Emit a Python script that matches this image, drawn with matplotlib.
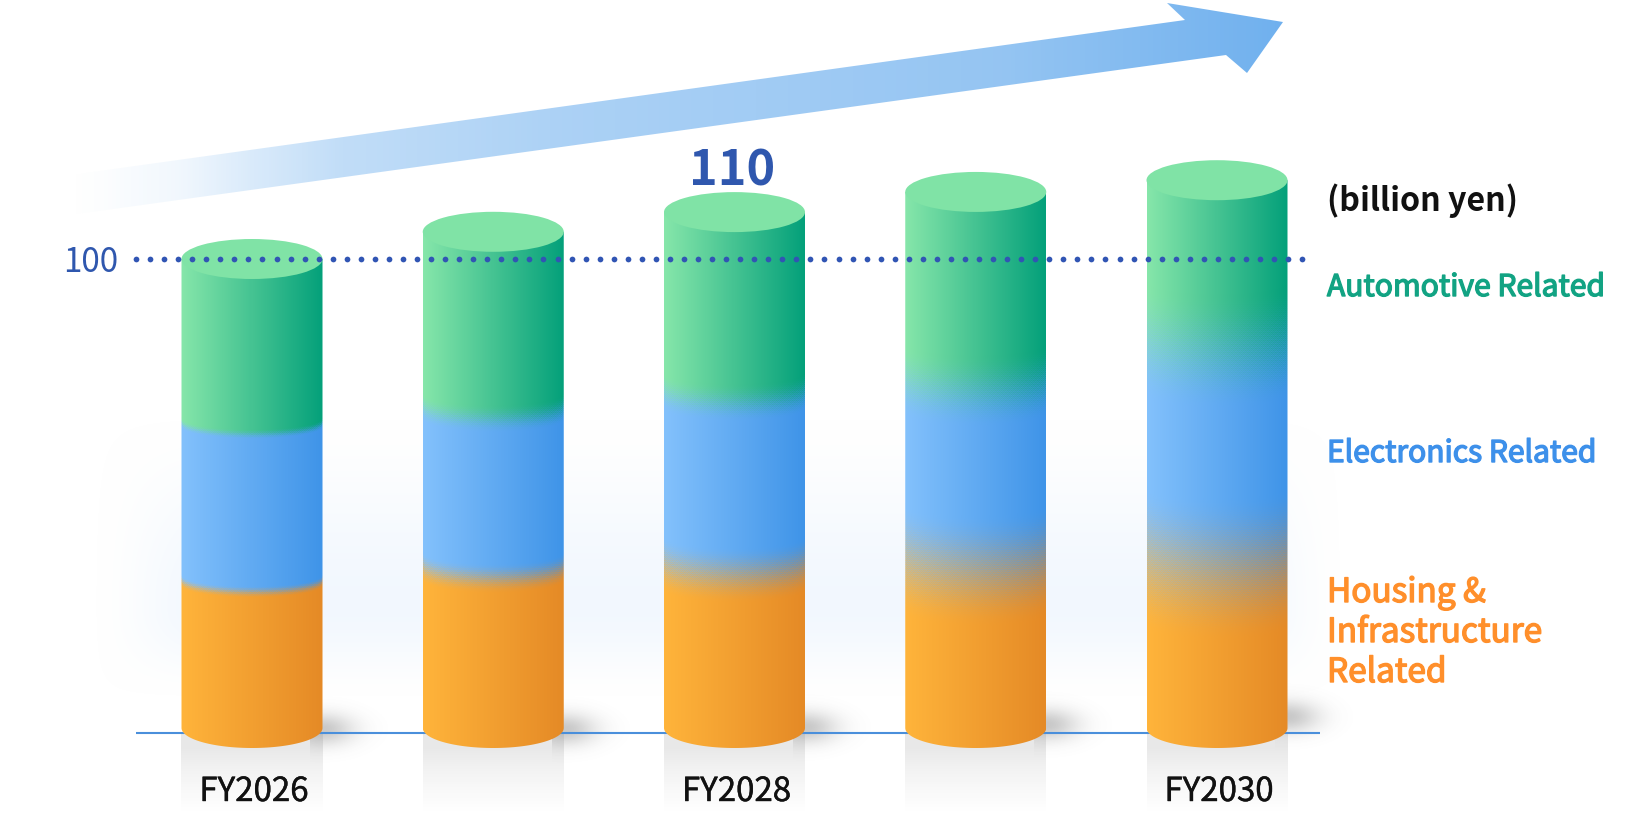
import numpy as np
import matplotlib
matplotlib.use('Agg')
import matplotlib.pyplot as plt
import matplotlib.patheffects as pe
from matplotlib.colors import to_rgb
from matplotlib.patches import Ellipse, PathPatch, Polygon
from matplotlib.path import Path

plt.rcParams['font.family'] = ['Noto Sans CJK JP', 'DejaVu Sans']

years = [2026, 2027, 2028, 2029, 2030]
year_labels = {2026: 'FY2026', 2028: 'FY2028', 2030: 'FY2030'}
housing = [31.6, 34.5, 35.2, 36.0, 36.4]
electronics = [33.5, 33.9, 36.7, 38.2, 46.3]
automotive = [34.9, 37.4, 38.1, 40.1, 34.1]
blur_low = [6, 15, 28, 56, 72]
blur_up = [5, 14, 19, 36, 58]
shadow_y = [-0.4, -0.4, 0.0, 0.6, 2.3]

W, H = 1640, 840
BASE_Y = 728
PX_PER_UNIT = 4.69
PX_PER_YEAR = 241.25
X0 = 252.0
HALF_W = 70.5 / PX_PER_YEAR
TOP_RY = 20 / PX_PER_UNIT
DIP = 12 / PX_PER_UNIT

GREEN = ('#86e6aa', '#04a07a')
BLUE = ('#83c1fc', '#3f94e8')
ORANGE = ('#ffb43b', '#e58a26')

BAYER = np.array([[0, 8, 2, 10], [12, 4, 14, 6], [3, 11, 1, 9], [15, 7, 13, 5]]) / 16.0 - 0.47


def gradient(pair, u):
    a, b = np.array(to_rgb(pair[0])), np.array(to_rgb(pair[1]))
    return a[None, None, :] * (1 - u[..., None]) + b[None, None, :] * u[..., None]


def smooth(t):
    t = np.clip(t, 0, 1)
    return t * t * (3 - 2 * t)


def dither(t):
    # grainy blend across the colour joints
    pattern = np.tile(BAYER, (t.shape[0] // 4 + 1, t.shape[1] // 4 + 1))[:t.shape[0], :t.shape[1]]
    return np.clip(t + pattern * 0.3 * (4 * t * (1 - t)), 0, 1)


def label(axes, x, y, text, size, color, stroke=0.6, **kw):
    t = axes.text(x, y, text, fontsize=size, color=color, va='baseline', **kw)
    t.set_path_effects([pe.withStroke(linewidth=stroke, foreground=color)])
    return t


fig = plt.figure(figsize=(16.4, 8.4), dpi=100)

# pixel-based layer for the backdrop, arrow and side labels
deco = fig.add_axes([0, 0, 1, 1], zorder=0)
deco.set_xlim(0, W)
deco.set_ylim(H, 0)
deco.axis('off')

xx, yy = np.meshgrid(np.arange(W, dtype=float), np.arange(H, dtype=float))
glow = smooth((xx - 90) / 120) * smooth((1345 - xx) / 110) * smooth((yy - 410) / 190) * smooth((700 - yy) / 90)
glow_img = np.zeros((H, W, 4))
glow_img[..., :3] = to_rgb('#e8f2fe')
glow_img[..., 3] = glow * 0.55
deco.imshow(glow_img, extent=(0, W, H, 0), aspect='auto', interpolation='bilinear')

# rising arrow, fading out to the left
arrow_pts = [(70, 175), (1185, 20), (1167, 3), (1283, 22), (1247, 73), (1226, 55), (70, 215)]
arrow = Polygon(arrow_pts, closed=True, fc='none', ec='none')
deco.add_patch(arrow)
arrow_img = np.zeros((H, W, 4))
arrow_img[..., :3] = to_rgb('#6fb0ee')
arrow_img[..., 3] = np.interp(xx, [70, 100, 180, 250, 340, 560, 1000, 1100, 1283],
                              [0, 0.02, 0.1, 0.26, 0.43, 0.58, 0.74, 0.83, 1.0])
im = deco.imshow(arrow_img, extent=(0, W, H, 0), aspect='auto', interpolation='bilinear')
im.set_clip_path(arrow)
deco.set_xlim(0, W)
deco.set_ylim(H, 0)

# chart layer: x in fiscal years, y in billion yen
ax = fig.add_axes([0, 0, 1, 1], zorder=1)
ax.patch.set_alpha(0)
ax.axis('off')

ax.plot([years[0] - 116 / PX_PER_YEAR, years[-1] + 103 / PX_PER_YEAR], [-1, -1],
        color='#4a8fdb', lw=1.5, zorder=2, solid_capstyle='butt')

for i, yr in enumerate(years):
    h, e, a = housing[i], electronics[i], automotive[i]
    total = h + e + a
    left, right = yr - HALF_W, yr + HALF_W

    # soft ground shadow to the right of the cylinder
    sx = np.linspace(right - 0.05, right + 0.32, 120)
    sy = np.linspace(-9, 12, 100)
    gx, gy = np.meshgrid(sx, sy)
    d = ((gx - right) / 0.13) ** 2 + ((gy - shadow_y[i]) / 3.4) ** 2
    shadow = np.zeros(gx.shape + (4,))
    shadow[..., :3] = 0.35
    shadow[..., 3] = 0.33 * np.exp(-d)
    ax.imshow(shadow, extent=(sx[0], sx[-1], sy[0], sy[-1]), origin='lower', aspect='auto', zorder=1)

    # reflection under the base
    ry0, ry1 = -18.2, -1.0
    ref_y = np.linspace(ry0, ry1, 80)
    ref = np.zeros((80, 2, 4))
    ref[..., :3] = 0.55
    ref[..., 3] = np.interp(ref_y, [-18.2, -15.4, -9, -4.2, -1.0], [0, 0.03, 0.11, 0.2, 0.2])[:, None]
    ax.imshow(ref, extent=(left, right, ry0, ry1), origin='lower', aspect='auto', zorder=1)

    # cylinder wall: colours run left to right, blended across the stack joints
    nx, ny = 141, int((total + TOP_RY + 3) * PX_PER_UNIT)
    y_vals = np.linspace(-TOP_RY - 1, total + 2, ny)
    u_vals = np.linspace(0, 1, nx)
    u, v = np.meshgrid(u_vals, y_vals)
    curve = DIP * np.sqrt(np.clip(1 - (2 * u - 1) ** 2, 0, 1))
    b_low = blur_low[i] / PX_PER_UNIT
    b_up = blur_up[i] / PX_PER_UNIT
    to_blue = dither(smooth((v - (h - curve) + b_low) / (2 * b_low)))
    to_green = dither(smooth((v - (h + e - curve) + b_up) / (2 * b_up)))
    wall = gradient(ORANGE, u) * (1 - to_blue[..., None]) + gradient(BLUE, u) * to_blue[..., None]
    wall = wall * (1 - to_green[..., None]) + gradient(GREEN, u) * to_green[..., None]

    t = np.linspace(0, np.pi, 80)
    outline = np.column_stack([
        np.concatenate([[left], yr - HALF_W * np.cos(t), [right], [left]]),
        np.concatenate([[total], -TOP_RY * np.sin(t), [total], [total]]),
    ])
    clip = PathPatch(Path(outline), fc='none', ec='none', transform=ax.transData)
    ax.add_patch(clip)
    body = ax.imshow(wall, extent=(left, right, y_vals[0], y_vals[-1]), origin='lower',
                     aspect='auto', zorder=3, interpolation='nearest')
    body.set_clip_path(clip)

    ax.add_patch(Ellipse((yr, total), 2 * HALF_W, 2 * TOP_RY, fc='#80e3a6', ec='none', zorder=4))

    if yr in year_labels:
        label(ax, yr + 2 / PX_PER_YEAR, -(801 - BASE_Y) / PX_PER_UNIT, year_labels[yr], 23.8, '#111111',
              stroke=0.3, ha='center', zorder=5)

ax.set_xlim(years[0] - X0 / PX_PER_YEAR, years[0] + (W - X0) / PX_PER_YEAR)
ax.set_ylim(-(H - BASE_Y) / PX_PER_UNIT, BASE_Y / PX_PER_UNIT)

# dotted reference at 100
dot_x = np.arange(136, 1316, 14.05)
ax.scatter(years[0] + (dot_x - X0) / PX_PER_YEAR, np.full(dot_x.shape, 100.0), s=17,
           color='#3155b4', linewidths=0, zorder=6)
ax.text(years[0] - 134 / PX_PER_YEAR, 100, '100', fontsize=24, color='#2f57ae', ha='right',
        va='center_baseline', zorder=6)
ax.text(years[2] - 2 / PX_PER_YEAR, 110 + 27 / PX_PER_UNIT, '110', fontsize=35, fontweight='bold',
        color='#2f57ae', ha='center', va='baseline', zorder=6)

deco.text(1327, 211, '(billion yen)', fontsize=23.2, fontweight='bold', color='#111111', va='baseline')
label(deco, 1327, 296, 'Automotive Related', 21.6, '#12a383', stroke=1.0)
label(deco, 1327, 462, 'Electronics Related', 21.6, '#3d90ea', stroke=1.0)
for y, line in zip([602, 642, 682], ['Housing &', 'Infrastructure', 'Related']):
    label(deco, 1327, y, line, 24, '#ff8f2b', stroke=1.0)

fig.savefig('out.png', dpi=100)
